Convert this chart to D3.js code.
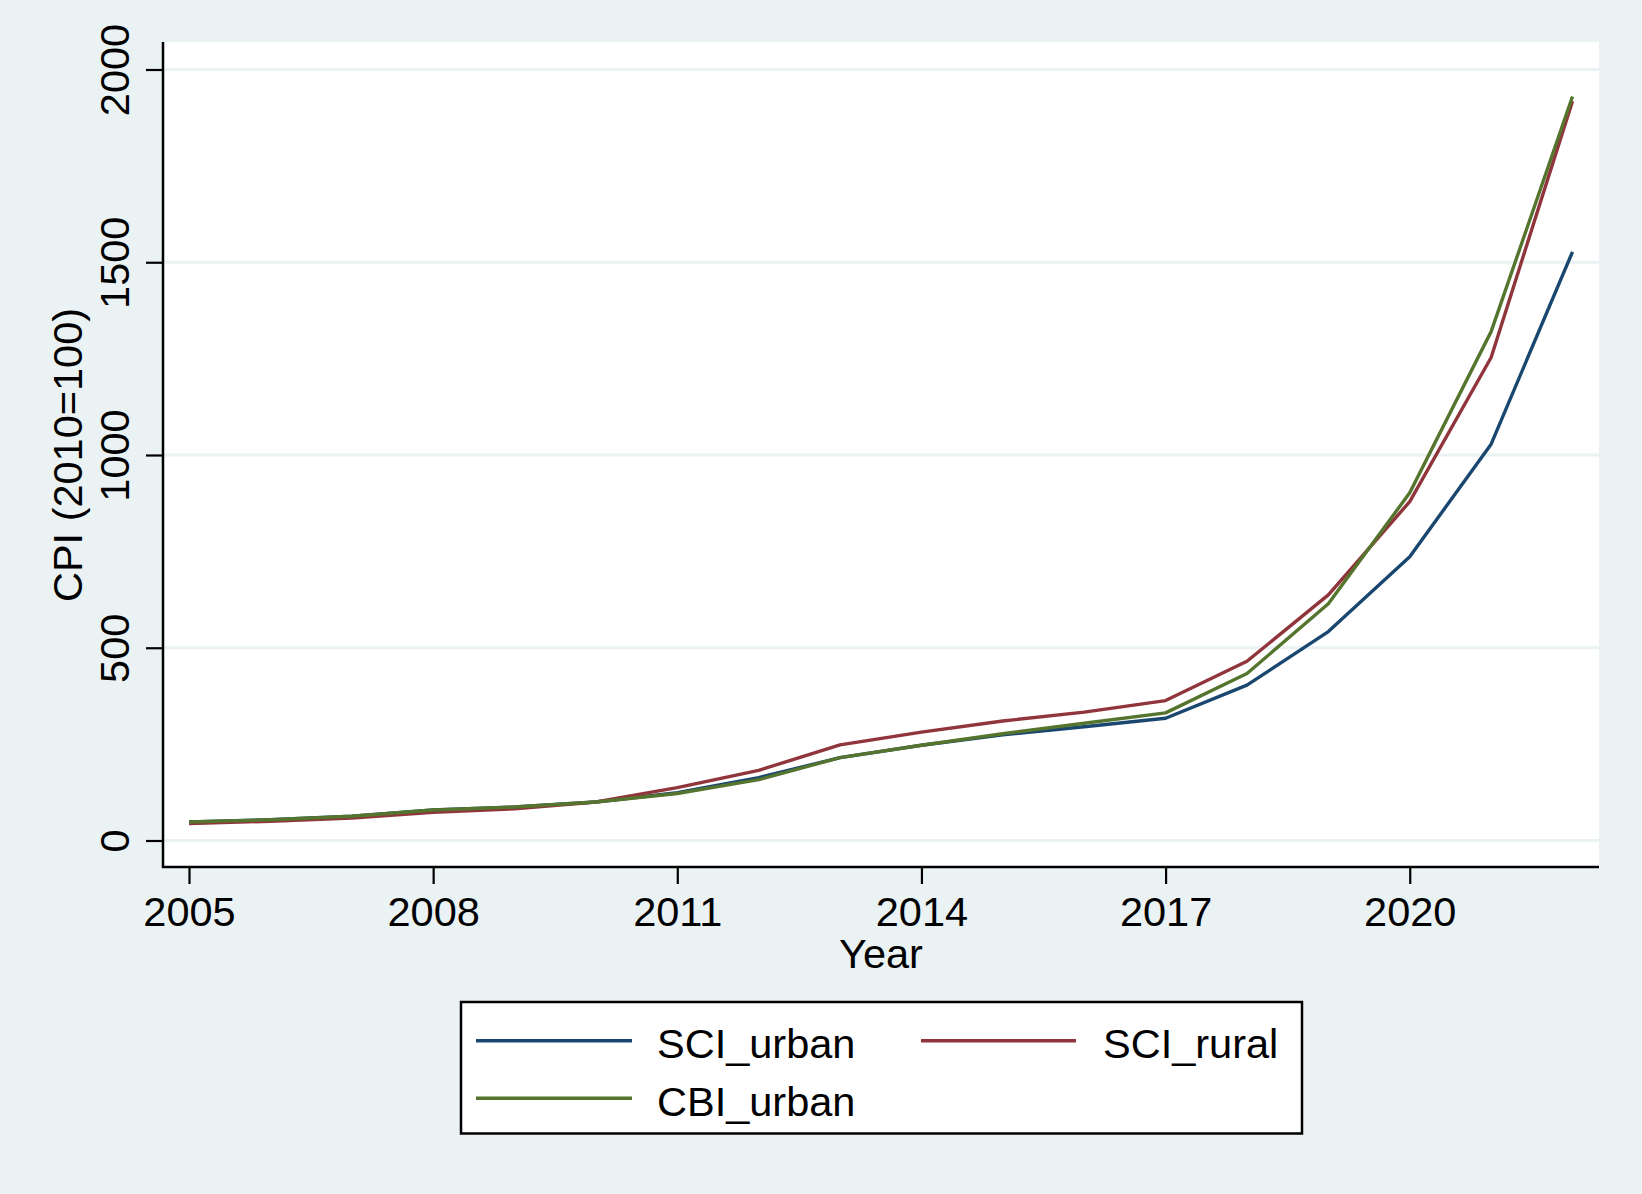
<!DOCTYPE html>
<html>
<head>
<meta charset="utf-8">
<script src="https://cdn.jsdelivr.net/npm/d3@7"></script>
<style>
  html, body { margin: 0; padding: 0; background: #eaf2f3; }
  svg { display: block; }
  text { font-family: "Liberation Sans", Arial, Helvetica, sans-serif; fill: #000; }
</style>
</head>
<body>
<svg id="chart" width="1642" height="1194"></svg>
<script>
const years = [2005, 2006, 2007, 2008, 2009, 2010, 2011, 2012, 2013, 2014, 2015, 2016, 2017, 2018, 2019, 2020, 2021, 2022];
const sciUrban = [48, 54, 63, 79, 87, 100, 124, 163, 215, 247, 274, 295, 317, 403, 542, 736, 1028, 1527];
const sciRural = [44, 50, 58, 73, 82, 100, 137, 182, 248, 281, 310, 333, 363, 465, 637, 879, 1253, 1918];
const cbiUrban = [48, 54, 63, 79, 87, 100, 122, 158, 215, 247, 277, 304, 331, 433, 614, 902, 1320, 1930];
const seriesNames = ["SCI_urban", "SCI_rural", "CBI_urban"];
const seriesColors = ["#1a476f", "#90353b", "#55752f"];
const xTicks = [2005, 2008, 2011, 2014, 2017, 2020];
const yTicks = [0, 500, 1000, 1500, 2000];
const xTitle = "Year";
const yTitle = "CPI (2010=100)";

const W = 1642, H = 1194;
const FS = 41.5;
const svg = d3.select("#chart");
const bg = "#eaf2f3";

svg.append("rect").attr("width", W).attr("height", H).attr("fill", bg);

const plot = { left: 163, right: 1599, top: 42, bottom: 867 };
const x = d3.scaleLinear().domain([2005, 2022]).range([189, 1572.5]);
const y = d3.scaleLinear().domain([0, 2000]).range([840.5, 69.5]);

// plot region
svg.append("rect")
  .attr("x", plot.left).attr("y", plot.top)
  .attr("width", plot.right - plot.left).attr("height", plot.bottom - plot.top)
  .attr("fill", "#fff");

// gridlines
svg.append("g").selectAll("line").data(yTicks).join("line")
  .attr("x1", plot.left).attr("x2", plot.right)
  .attr("y1", d => y(d)).attr("y2", d => y(d))
  .attr("stroke", bg).attr("stroke-width", 3);

// series
const data = [sciUrban, sciRural, cbiUrban];
const line = d3.line().x((d, i) => x(years[i])).y(d => y(d));
svg.append("g").selectAll("path").data(data).join("path")
  .attr("d", d => line(d))
  .attr("fill", "none")
  .attr("stroke", (d, i) => seriesColors[i])
  .attr("stroke-width", 3.4)
  .attr("stroke-linejoin", "round");

// x axis
const xAxis = d3.axisBottom(x).tickValues(xTicks).tickFormat(d3.format("d")).tickSize(17).tickPadding(12);
const gx = svg.append("g").attr("transform", `translate(0,${plot.bottom})`).call(xAxis);
gx.select(".domain").remove();
gx.append("line").attr("x1", plot.left - 1).attr("x2", plot.right).attr("y1", 0).attr("y2", 0)
  .attr("stroke", "#000").attr("stroke-width", 2.5);
gx.selectAll(".tick line").attr("stroke", "#000").attr("stroke-width", 2.2);
gx.selectAll(".tick text").attr("font-size", FS).attr("fill", "#000")
  .attr("font-family", "'Liberation Sans', Arial, Helvetica, sans-serif")
  .attr("dy", null).attr("y", 59);

// y axis
const yAxis = d3.axisLeft(y).tickValues(yTicks).tickFormat(d3.format("d")).tickSize(17).tickPadding(0);
const gy = svg.append("g").attr("transform", `translate(${plot.left},0)`).call(yAxis);
gy.select(".domain").remove();
gy.append("line").attr("x1", 0).attr("x2", 0).attr("y1", plot.top).attr("y2", plot.bottom + 1)
  .attr("stroke", "#000").attr("stroke-width", 2.5);
gy.selectAll(".tick line").attr("stroke", "#000").attr("stroke-width", 2.2);
gy.selectAll(".tick text")
  .attr("font-size", FS).attr("fill", "#000")
  .attr("font-family", "'Liberation Sans', Arial, Helvetica, sans-serif")
  .attr("x", null).attr("dy", null)
  .attr("text-anchor", "middle")
  .attr("transform", `translate(${128.5 - plot.left},0) rotate(-90)`);

// axis titles
svg.append("text").attr("x", (plot.left + plot.right) / 2).attr("y", 968)
  .attr("text-anchor", "middle").attr("font-size", FS).text(xTitle);
svg.append("text")
  .attr("transform", `translate(82,${(y(0) + y(2000)) / 2}) rotate(-90)`)
  .attr("text-anchor", "middle").attr("font-size", FS).text(yTitle);

// legend
const lg = svg.append("g");
lg.append("rect").attr("x", 461).attr("y", 1002).attr("width", 841).attr("height", 131.5)
  .attr("fill", "#fff").attr("stroke", "#000").attr("stroke-width", 2.5);
const legendPos = [
  { kx1: 476, kx2: 632, ky: 1040.7, tx: 657, ty: 1058 },
  { kx1: 921, kx2: 1076, ky: 1040.7, tx: 1103, ty: 1058 },
  { kx1: 476, kx2: 632, ky: 1098.3, tx: 657, ty: 1115.6 }
];
const items = lg.selectAll("g.item").data(seriesNames).join("g").attr("class", "item");
items.append("line")
  .attr("x1", (d, i) => legendPos[i].kx1).attr("x2", (d, i) => legendPos[i].kx2)
  .attr("y1", (d, i) => legendPos[i].ky).attr("y2", (d, i) => legendPos[i].ky)
  .attr("stroke", (d, i) => seriesColors[i]).attr("stroke-width", 3.4);
items.append("text")
  .attr("x", (d, i) => legendPos[i].tx).attr("y", (d, i) => legendPos[i].ty)
  .attr("font-size", FS).text(d => d);
</script>
</body>
</html>
